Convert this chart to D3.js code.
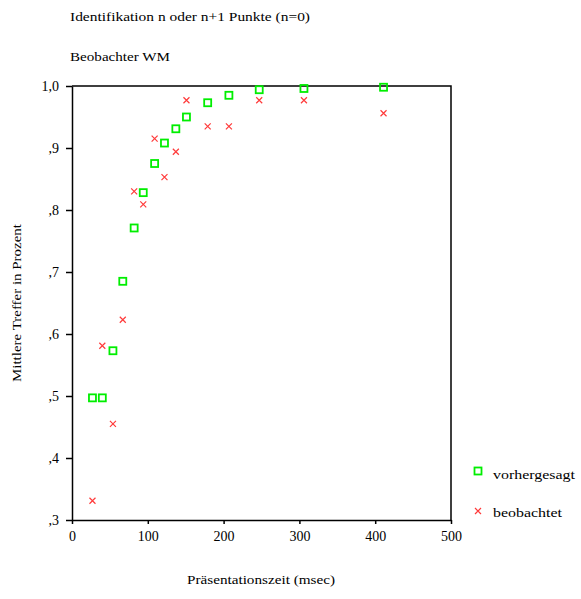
<!DOCTYPE html>
<html>
<head>
<meta charset="utf-8">
<script src="https://cdn.jsdelivr.net/npm/d3@7"></script>
<style>
  html, body { margin: 0; padding: 0; background: #fff; }
  svg { display: block; }
  svg text { font-family: "Liberation Serif", "Times New Roman", Times, Tinos, "DejaVu Serif", "Noto Serif", serif !important; fill: #000; }
</style>
</head>
<body>
<svg id="chart" width="581" height="599"></svg>
<script>
// Presentation times (msec)
const times = [27, 40, 54, 67, 82, 94, 109, 122, 137, 151, 179, 207, 247, 306, 411];
// Mean hit rate, predicted model values
const predicted = [0.497, 0.497, 0.573, 0.685, 0.771, 0.828, 0.875, 0.908, 0.931, 0.950, 0.973, 0.985, 0.994, 0.996, 0.998];
// Mean hit rate, observed
const observed = [0.331, 0.581, 0.455, 0.623, 0.830, 0.809, 0.915, 0.853, 0.894, 0.977, 0.935, 0.935, 0.977, 0.977, 0.956];

const xTicks = [0, 100, 200, 300, 400, 500];
const yTicks = [0.3, 0.4, 0.5, 0.6, 0.7, 0.8, 0.9, 1.0];
const yTickLabels = [",3", ",4", ",5", ",6", ",7", ",8", ",9", "1,0"];

const titleLines = ["Identifikation n oder n+1 Punkte (n=0)", "Beobachter WM"];
const xTitle = "Präsentationszeit (msec)";
const yTitle = "Mittlere Treffer in Prozent";
const legendLabels = ["vorhergesagt", "beobachtet"];

const green = "#00ee00";
const red = "#ff3a3a";
const serif = "'Liberation Serif', 'Times New Roman', Times, Tinos, 'DejaVu Serif', 'Noto Serif', serif";

const svg = d3.select("#chart");
const plot = { left: 72, right: 451, top: 86, bottom: 520 };

const x = d3.scaleLinear().domain([0, 500]).range([plot.left, plot.right]);
const y = d3.scaleLinear().domain([0.3, 1.0]).range([plot.bottom, plot.top]);

function label(sel, size, len) {
  sel.style("font-family", serif).attr("font-size", size);
  if (len) sel.attr("textLength", len).attr("lengthAdjust", "spacingAndGlyphs");
  return sel;
}

// Titles
label(svg.append("text").attr("x", 70).attr("y", 21), 13, 240).text(titleLines[0]);
label(svg.append("text").attr("x", 70).attr("y", 61), 13, 100).text(titleLines[1]);

// Frame (top and right edges)
svg.append("path")
  .attr("d", `M${plot.left},${plot.top}H${plot.right}V${plot.bottom}`)
  .attr("fill", "none").attr("stroke", "#000").attr("stroke-width", 1.5);

// X axis
const xAxis = svg.append("g")
  .attr("transform", `translate(0,${plot.bottom})`)
  .call(d3.axisBottom(x).tickValues(xTicks).tickFormat(d3.format("d")).tickSizeInner(4).tickSizeOuter(0).tickPadding(7));
xAxis.attr("font-family", null);
xAxis.select(".domain").attr("stroke-width", 1.5);
xAxis.selectAll(".tick line").attr("stroke-width", 1.5);
label(xAxis.selectAll("text"), 14).attr("fill", "#000");

// Y axis
const yAxis = svg.append("g")
  .attr("transform", `translate(${plot.left},0)`)
  .call(d3.axisLeft(y).tickValues(yTicks).tickFormat((d, i) => yTickLabels[i]).tickSizeInner(6).tickSizeOuter(0).tickPadding(7));
yAxis.attr("font-family", null);
yAxis.select(".domain").attr("stroke-width", 1.5);
yAxis.selectAll(".tick line").attr("stroke-width", 1.5);
label(yAxis.selectAll("text"), 14).attr("fill", "#000");

// Axis titles
label(svg.append("text").attr("x", 261).attr("y", 584).attr("text-anchor", "middle"), 13, 148)
  .text(xTitle);
label(svg.append("text").attr("transform", "translate(21,303) rotate(-90)").attr("text-anchor", "middle"), 13, 158)
  .text(yTitle);

// Marker shapes
function square(g, cx, cy) {
  g.append("rect")
    .attr("x", cx - 3.5).attr("y", cy - 3.5).attr("width", 7).attr("height", 7)
    .attr("fill", "none").attr("stroke", green).attr("stroke-width", 1.8);
}
function cross(g, cx, cy) {
  const s = 3;
  g.append("path")
    .attr("d", `M${cx - s},${cy - s}L${cx + s},${cy + s}M${cx - s},${cy + s}L${cx + s},${cy - s}`)
    .attr("stroke", red).attr("stroke-width", 1.2).attr("fill", "none");
}

// Data points
const marks = svg.append("g");
times.forEach((t, i) => square(marks, x(t), y(predicted[i])));
times.forEach((t, i) => cross(marks, x(t), y(observed[i])));

// Legend
const legend = svg.append("g");
square(legend, 478, 471);
label(legend.append("text").attr("x", 493).attr("y", 479), 13, 82).text(legendLabels[0]);
cross(legend, 478, 511);
label(legend.append("text").attr("x", 493).attr("y", 517), 13, 69).text(legendLabels[1]);
</script>
</body>
</html>
